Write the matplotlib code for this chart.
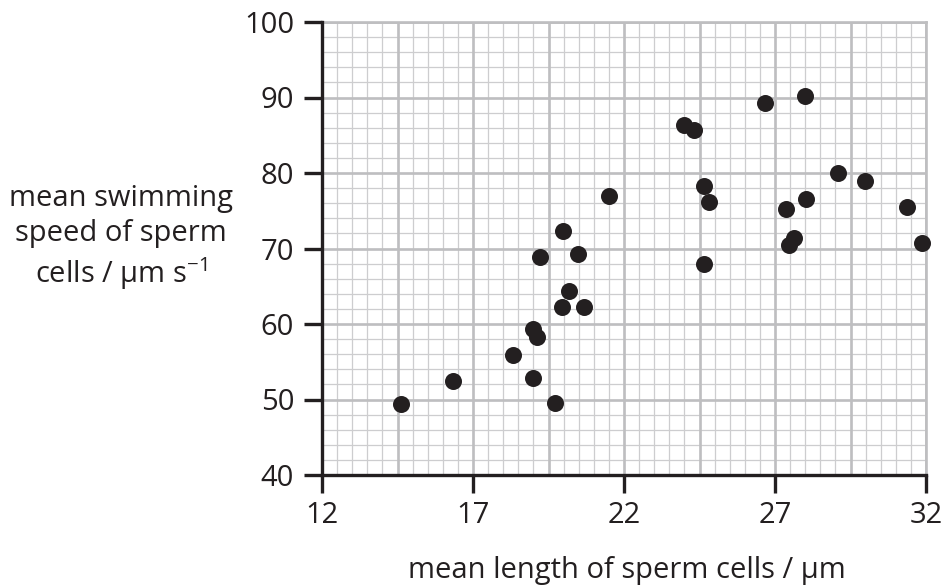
import numpy as np
import matplotlib
matplotlib.use("Agg")
import matplotlib.pyplot as plt

plt.rcParams['font.family'] = ['Open Sans', 'DejaVu Sans']
plt.rcParams['mathtext.fontset'] = 'custom'
plt.rcParams['mathtext.rm'] = 'Open Sans'
plt.rcParams['mathtext.default'] = 'regular'

length = [14.60, 16.34, 18.32, 18.99, 18.99, 19.12, 19.73, 19.94, 20.66, 20.17,
          19.23, 20.49, 19.98, 21.50, 23.98, 24.33, 24.64, 24.83, 24.64, 26.67,
          27.99, 27.38, 28.04, 27.64, 27.47, 29.10, 29.98, 31.38, 31.87]
speed = [49.4, 52.5, 55.9, 52.9, 59.3, 58.3, 49.6, 62.3, 62.3, 64.4,
         68.9, 69.3, 72.3, 76.95, 86.3, 85.7, 78.3, 76.2, 67.95, 89.3,
         90.2, 75.2, 76.5, 71.35, 70.4, 79.96, 78.9, 75.5, 70.7]
x_ticks = [12, 17, 22, 27, 32]
y_ticks = [40, 50, 60, 70, 80, 90, 100]

ink = '#231f20'
thin_c = '#cdcdcf'
thick_c = '#bebec0'

fig = plt.figure(figsize=(9.44, 5.87), dpi=100)
ax = fig.add_axes([322/944, 1-475/587, (926-322)/944, (475-22)/587])
ax.set_xlim(12, 32)
ax.set_ylim(40, 100)

# thin grid
for xv in np.arange(12, 32.01, 0.5):
    ax.axvline(xv, color=thin_c, lw=0.9, zorder=0)
for yv in np.arange(40, 100.01, 2):
    ax.axhline(yv, color=thin_c, lw=0.9, zorder=0)
# thick grid
for xv in np.arange(12, 32.01, 2.5):
    ax.axvline(xv, color=thick_c, lw=1.9, zorder=0.5)
for yv in np.arange(40, 100.01, 10):
    ax.axhline(yv, color=thick_c, lw=1.9, zorder=0.5)

ax.scatter(length, speed, s=150, color=ink, zorder=3, clip_on=False, linewidths=0)

ax.set_xticks(x_ticks)
ax.set_yticks(y_ticks)
ax.tick_params(axis='both', which='major', direction='out', length=13, width=2.4,
               color=ink, labelsize=21, labelcolor=ink)
ax.tick_params(axis='x', pad=6)
ax.tick_params(axis='y', pad=7)

for s in ['left', 'bottom']:
    ax.spines[s].set_color(ink)
    ax.spines[s].set_linewidth(2.4)
    ax.spines[s].set_zorder(4)
for s in ['top', 'right']:
    ax.spines[s].set_color(thick_c)
    ax.spines[s].set_linewidth(1.9)

fig.text(627/944, 1-578/587, 'mean length of sperm cells / μm', ha='center', va='baseline',
         fontsize=21, color=ink)
fig.text(121/944, 1-283/587, 'mean swimming\nspeed of sperm\ncells / μm s$^{−1}$', ha='center',
         va='baseline', fontsize=21, color=ink, linespacing=1.27, multialignment='center')

fig.savefig('out.png', dpi=100)
